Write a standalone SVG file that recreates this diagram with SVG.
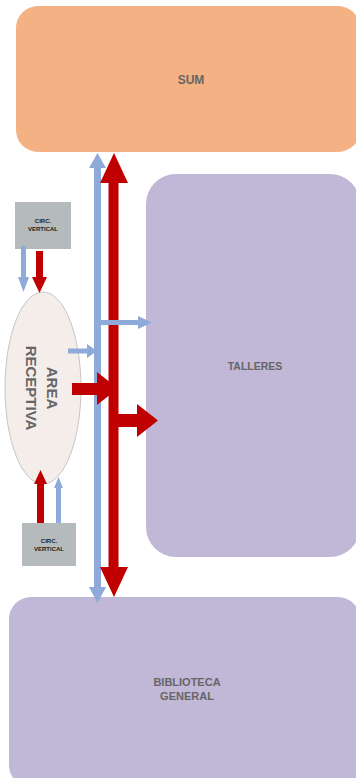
<svg xmlns="http://www.w3.org/2000/svg" width="356" height="778" viewBox="0 0 356 778">
<style>
.lbl{font-family:"Liberation Sans",Arial,sans-serif;font-weight:bold;fill:#666666;text-anchor:middle}
.small{font-family:"Liberation Sans",Arial,sans-serif;font-weight:bold;fill:#222222;text-anchor:middle;font-size:6px}
.purple{fill:#c1b7d7}
.red{fill:#c00000}
.blue{fill:#8eaadb}
.circ{fill:#b5babd}
</style>
<rect width="356" height="778" fill="#ffffff"/>
<g id="sum">
<rect x="16" y="6" width="344" height="146" rx="22" ry="22" fill="#f4b183"/>
<text class="lbl" x="191" y="84" font-size="12">SUM</text>
</g>
<g id="talleres">
<rect x="146" y="174" width="214" height="383" rx="30" ry="30" class="purple"/>
<text class="lbl" x="255" y="370" font-size="10.5">TALLERES</text>
</g>
<g id="biblioteca">
<rect x="9" y="597" width="351" height="190" rx="22" ry="22" class="purple"/>
<text class="lbl" x="187" y="686" font-size="11">BIBLIOTECA</text>
<text class="lbl" x="187" y="700" font-size="11">GENERAL</text>
</g>
<g id="area-receptiva">
<ellipse cx="43" cy="388" rx="38" ry="96" fill="#f5ede9" stroke="#c6c6c6" stroke-width="1"/>
<g transform="translate(42,388) rotate(90)">
<text class="lbl" x="0" y="-5" font-size="15">AREA</text>
<text class="lbl" x="0" y="16" font-size="15">RECEPTIVA</text>
</g>
</g>
<g id="circ-vertical-top">
<rect x="15" y="202" width="56" height="47" class="circ"/>
<text class="small" x="43" y="223">CIRC.</text>
<text class="small" x="43" y="231">VERTICAL</text>
</g>
<g id="circ-vertical-bottom">
<rect x="22" y="523" width="54" height="43" class="circ"/>
<text class="small" x="49" y="543">CIRC.</text>
<text class="small" x="49" y="551">VERTICAL</text>
</g>
<g id="connectors">
<polygon class="blue" points="97.5,153 106,168 101,168 101,587 106,587 97.5,603 89,587 94,587 94,168 89,168"/>
<polygon class="red" points="114,153 128,183 118.5,183 118.5,567 128,567 114,597 100,567 108.5,567 108.5,183 100,183"/>
<polygon class="blue" points="101,320 138,320 138,316 152,322.5 138,329 138,325 101,325"/>
<polygon class="red" points="118,414 137,414 137,404 158,420.5 137,437 137,427 118,427"/>
<polygon class="blue" points="68,348.5 87,348.5 87,344 97,351 87,358 87,353.5 68,353.5"/>
<polygon class="red" points="72,383 97,383 97,372 118,388.5 97,405 97,395 72,395"/>
<polygon class="blue" points="21,246 26,246 26,277 29,277 23.5,292 18,277 21,277"/>
<polygon class="red" points="36,251 43,251 43,277 47,277 39.5,293 32,277 36,277"/>
<polygon class="red" points="37,523 44,523 44,484 47,484 40.5,470 34,484 37,484"/>
<polygon class="blue" points="56,523 61,523 61,488 63,488 58.5,477 54,488 56,488"/>
</g>
</svg>
